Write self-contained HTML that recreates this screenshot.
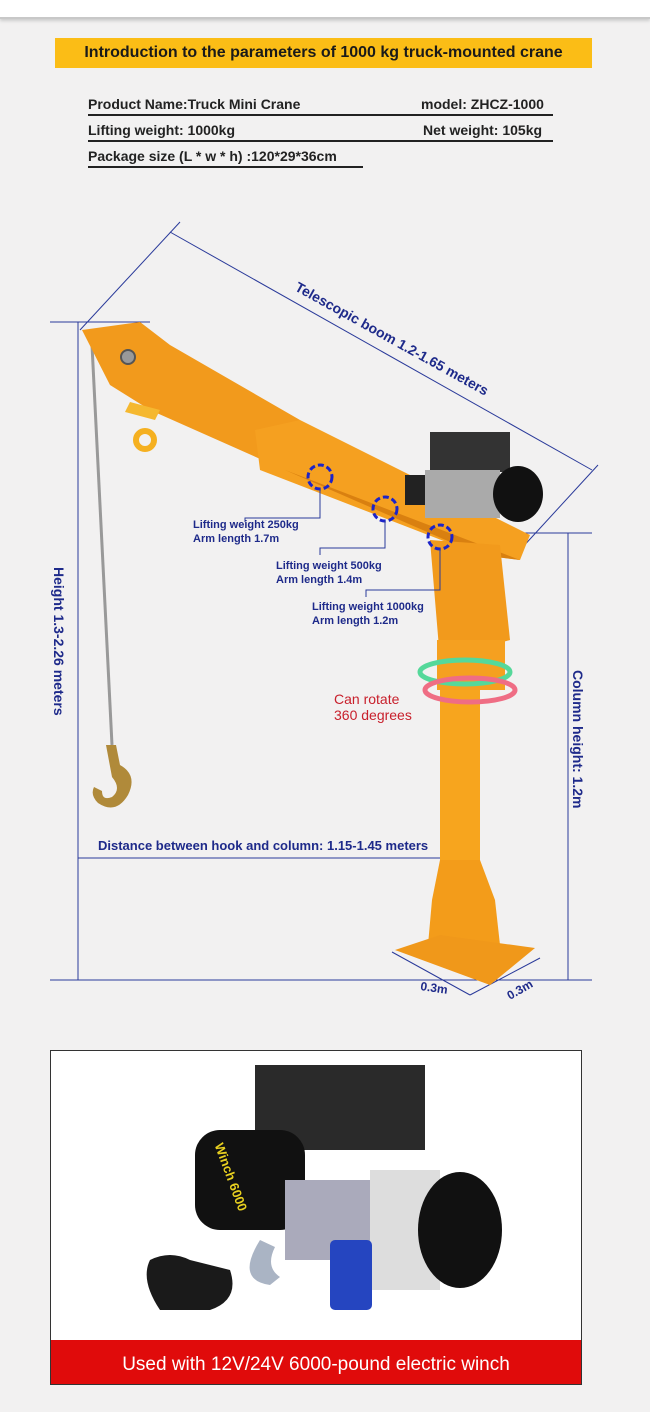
<!DOCTYPE html>
<html><head><meta charset="utf-8"><style>
html,body{margin:0;padding:0;}
body{width:650px;height:1412px;background:#f2f1f1;position:relative;overflow:hidden;font-family:"Liberation Sans",sans-serif;}
.top{position:absolute;left:0;top:0;width:650px;height:17px;background:#fff;border-bottom:2px solid #c8c8c8;box-shadow:0 2px 3px #ccc;}
.title{position:absolute;left:55px;top:38px;width:537px;height:30px;background:#fbbd16;color:#1a1a1a;font-size:16px;font-weight:bold;line-height:30px;text-align:center;}
.row{position:absolute;font-size:14px;font-weight:bold;color:#222;}
.ul{position:absolute;height:1.5px;background:#222;}
</style></head><body>
<div class="top"></div>
<div class="title">Introduction to the parameters of 1000 kg truck-mounted crane</div>
<div class="row" style="left:88px;top:96px">Product Name:Truck Mini Crane</div>
<div class="row" style="left:421px;top:96px">model: ZHCZ-1000</div>
<div class="ul" style="left:88px;top:114px;width:465px"></div>
<div class="row" style="left:88px;top:122px">Lifting weight: 1000kg</div>
<div class="row" style="left:423px;top:122px">Net weight: 105kg</div>
<div class="ul" style="left:88px;top:140px;width:465px"></div>
<div class="row" style="left:88px;top:148px">Package size (L * w * h) :120*29*36cm</div>
<div class="ul" style="left:88px;top:166px;width:275px"></div>

<svg width="650" height="1412" style="position:absolute;left:0;top:0" xmlns="http://www.w3.org/2000/svg">
<g stroke="#2a3a9a" stroke-width="1" fill="none">
<line x1="50" y1="322" x2="150" y2="322"/>
<line x1="78" y1="322" x2="78" y2="980"/>
<line x1="50" y1="980" x2="592" y2="980"/>
<line x1="520" y1="533" x2="592" y2="533"/>
<line x1="568" y1="533" x2="568" y2="980"/>
<line x1="78" y1="858" x2="440" y2="858"/>
<line x1="170" y1="232" x2="592" y2="470"/>
<line x1="180" y1="222" x2="80" y2="330"/>
<line x1="598" y1="465" x2="520" y2="550"/>
<line x1="392" y1="952" x2="470" y2="995"/>
<line x1="470" y1="995" x2="540" y2="958"/>
</g>
<line x1="92" y1="345" x2="112" y2="745" stroke="#999" stroke-width="3"/>
<line x1="100" y1="340" x2="430" y2="490" stroke="#888" stroke-width="2"/>
<path d="M106 745 l10 0 l4 20 q18 10 8 30 q-12 20 -30 8 q-8 -8 -4 -16 l8 4 q0 10 10 6 q10 -8 0 -20 z" fill="#b08a3a"/>
<!-- boom -->
<polygon points="82,330 140,322 170,345 300,420 285,470 150,410 110,385" fill="#f29a1c"/>
<polygon points="255,430 300,420 530,535 520,560 480,555 260,470" fill="#f5a020"/>
<polygon points="285,470 520,560 480,555" fill="#d98010"/>
<polygon points="130,402 160,410 155,420 125,412" fill="#f5b830"/>
<circle cx="145" cy="440" r="9" fill="none" stroke="#f5b020" stroke-width="6"/>
<circle cx="128" cy="357" r="7" fill="#999" stroke="#555" stroke-width="2"/>
<!-- column -->
<polygon points="430,540 500,545 510,640 440,660" fill="#f29a1c"/>
<rect x="437" y="640" width="68" height="50" fill="#f5a020"/>
<rect x="440" y="690" width="40" height="210" fill="#f7a51e"/>
<polygon points="432,900 440,860 480,860 495,900 500,945 428,945" fill="#f39c1a"/>
<polygon points="395,950 440,935 535,948 490,985" fill="#f0981a"/>
<!-- winch -->
<rect x="430" y="432" width="80" height="40" fill="#333"/>
<rect x="405" y="475" width="30" height="30" fill="#222"/>
<rect x="425" y="470" width="75" height="48" fill="#aaa"/>
<ellipse cx="518" cy="494" rx="25" ry="28" fill="#111"/>
<ellipse cx="465" cy="672" rx="45" ry="12" fill="none" stroke="#55d89a" stroke-width="5"/>
<ellipse cx="470" cy="690" rx="45" ry="12" fill="none" stroke="#ef6d84" stroke-width="5"/>
<g fill="none" stroke="#1d24c8" stroke-width="3" stroke-dasharray="6 3">
<circle cx="320" cy="477" r="12"/><circle cx="385" cy="509" r="12"/><circle cx="440" cy="537" r="12"/>
</g>
<g stroke="#2a3a9a" stroke-width="1" fill="none">
<polyline points="320,489 320,518 245,518 245,522"/>
<polyline points="385,521 385,548 320,548 320,555"/>
<polyline points="440,549 440,590 366,590 366,597"/>
</g>
<g font-family="Liberation Sans, sans-serif" font-weight="bold" font-size="11" fill="#1e2a8a">
<text x="193" y="528">Lifting weight 250kg</text><text x="193" y="542">Arm length 1.7m</text>
<text x="276" y="569">Lifting weight 500kg</text><text x="276" y="583">Arm length 1.4m</text>
<text x="312" y="610">Lifting weight 1000kg</text><text x="312" y="624">Arm length 1.2m</text>
<text x="98" y="850" font-size="13">Distance between hook and column: 1.15-1.45 meters</text>
<text transform="translate(294,290) rotate(29)" font-size="14">Telescopic boom 1.2-1.65 meters</text>
<text transform="translate(54,567) rotate(90)" font-size="14">Height 1.3-2.26 meters</text>
<text transform="translate(573,670) rotate(90)" font-size="14">Column height: 1.2m</text>
<text transform="translate(420,990) rotate(8)" font-size="12">0.3m</text>
<text transform="translate(510,1000) rotate(-30)" font-size="12">0.3m</text>
</g>
<g font-family="Liberation Sans, sans-serif" font-size="14" fill="#c8202c">
<text x="334" y="704">Can rotate</text><text x="334" y="720">360 degrees</text>
</g>
<rect x="50.5" y="1050.5" width="531" height="334" fill="#fff" stroke="#333" stroke-width="1"/>
<rect x="255" y="1065" width="170" height="85" fill="#2a2a2a"/>
<rect x="195" y="1130" width="110" height="100" rx="25" fill="#111"/>
<text x="204" y="1160" transform="rotate(70 220 1160)" font-size="13" font-weight="bold" fill="#e8d020" font-family="Liberation Sans, sans-serif">Winch 6000</text>
<rect x="285" y="1180" width="90" height="80" fill="#aab"/>
<rect x="370" y="1170" width="70" height="120" fill="#ddd"/>
<ellipse cx="460" cy="1230" rx="42" ry="58" fill="#111"/>
<rect x="330" y="1240" width="42" height="70" rx="5" fill="#2545c0"/>
<path d="M150 1260 q20 -10 40 0 l40 10 q10 30 -20 40 l-50 0 q-20 -30 -10 -50z" fill="#1a1a1a"/>
<path d="M260 1240 q-25 40 10 45 l10 -8 q-15 -10 -5 -30z" fill="#aab4c4"/>
<rect x="51" y="1340" width="530" height="44" fill="#e00b0b"/>
<text x="316" y="1370" text-anchor="middle" font-size="19" fill="#fff" font-family="Liberation Sans, sans-serif">Used with 12V/24V 6000-pound electric winch</text>
</svg>
</body></html>
